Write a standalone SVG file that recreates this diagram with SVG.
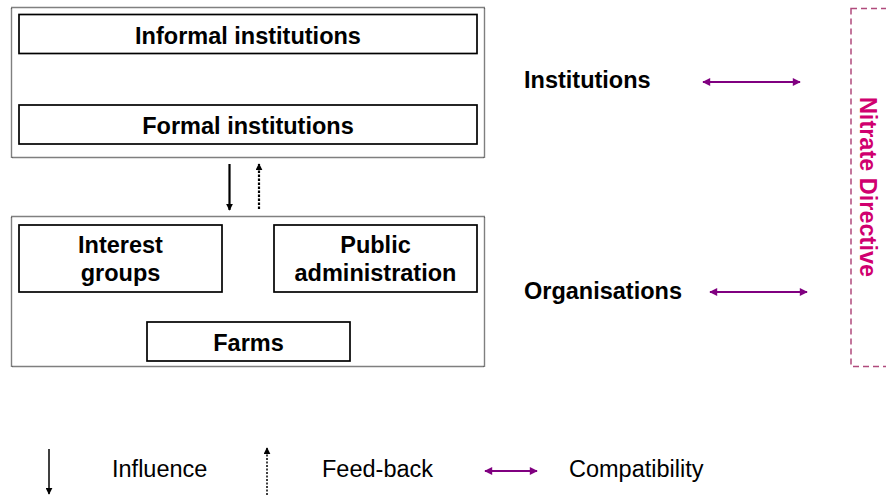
<svg xmlns="http://www.w3.org/2000/svg" width="886" height="498" viewBox="0 0 886 498">
<style>
.box{fill:#fff;stroke:#000;stroke-width:1.7}
.outer{fill:none;stroke:#000;stroke-width:1.4;stroke-dasharray:1 1}
.b{font-family:"Liberation Sans",Arial,sans-serif;font-weight:bold;font-size:23.5px;fill:#000;text-anchor:middle}
.bl{font-family:"Liberation Sans",Arial,sans-serif;font-weight:bold;font-size:23.5px;fill:#000}
.r{font-family:"Liberation Sans",Arial,sans-serif;font-size:23.5px;fill:#000}
.blk{stroke:#000;stroke-width:2.2;fill:none}
.dot{stroke:#000;stroke-width:2.2;fill:none;stroke-dasharray:2.5 1.5}
.blk2{stroke:#000;stroke-width:1.5;fill:none}
.dot2{stroke:#000;stroke-width:1.5;fill:none;stroke-dasharray:2 1.5}
.pur{stroke:#800080;stroke-width:1.8;fill:none}
</style>
<defs>
<marker id="ap" viewBox="0 0 10 10" refX="9" refY="5" markerWidth="10" markerHeight="8" orient="auto-start-reverse" markerUnits="userSpaceOnUse">
<path d="M0,0 L10,5 L0,10 z" fill="#800080"/>
</marker>
<marker id="ab" viewBox="0 0 10 10" refX="9" refY="5" markerWidth="7" markerHeight="7" orient="auto" markerUnits="userSpaceOnUse">
<path d="M0,0 L10,5 L0,10 z" fill="#000"/>
</marker>
</defs>
<g id="institutions-group">
<rect class="outer" x="11.5" y="7.5" width="473" height="150"/>
</g>
<g id="informal">
<rect class="box" x="19" y="14.5" width="458" height="39"/>
<text class="b" x="248" y="44">Informal institutions</text>
</g>
<g id="formal">
<rect class="box" x="19" y="105" width="458" height="39"/>
<text class="b" x="248" y="134">Formal institutions</text>
</g>
<g id="organisations-group">
<rect class="outer" x="11.5" y="216.5" width="473" height="150"/>
</g>
<g id="interest">
<rect class="box" x="19" y="225" width="203" height="67"/>
<text class="b" x="120.5" y="253">Interest</text>
<text class="b" x="120.5" y="281">groups</text>
</g>
<g id="public">
<rect class="box" x="274" y="225" width="203" height="67"/>
<text class="b" x="375.5" y="253">Public</text>
<text class="b" x="375.5" y="281">administration</text>
</g>
<g id="farms">
<rect class="box" x="147" y="322" width="203" height="39"/>
<text class="b" x="248.5" y="351">Farms</text>
</g>
<g id="labels">
<text class="bl" x="524" y="88">Institutions</text>
<text class="bl" x="524" y="299">Organisations</text>
</g>
<g id="nitrate">
<rect x="851" y="8.5" width="40" height="358" fill="none" stroke="#b04a7c" stroke-width="1.5" stroke-dasharray="6 4"/>
<text class="b" x="0" y="0" transform="translate(860,187) rotate(90)" style="fill:#d0006f">Nitrate Directive</text>
</g>
<g id="connectors">
<line class="blk" x1="229.5" y1="164" x2="229.5" y2="210" marker-end="url(#ab)"/>
<line class="dot" x1="259" y1="209" x2="259" y2="164" marker-end="url(#ab)"/>
<line class="pur" x1="703" y1="82" x2="800" y2="82" marker-start="url(#ap)" marker-end="url(#ap)"/>
<line class="pur" x1="710" y1="292" x2="807" y2="292" marker-start="url(#ap)" marker-end="url(#ap)"/>
</g>
<g id="legend">
<line class="blk2" x1="49" y1="449" x2="49" y2="494" marker-end="url(#ab)"/>
<text class="r" x="112" y="477">Influence</text>
<line class="dot2" x1="267" y1="495" x2="267" y2="448" marker-end="url(#ab)"/>
<text class="r" x="322" y="477">Feed-back</text>
<line class="pur" x1="485" y1="471" x2="537" y2="471" marker-start="url(#ap)" marker-end="url(#ap)"/>
<text class="r" x="569" y="477">Compatibility</text>
</g>
</svg>
